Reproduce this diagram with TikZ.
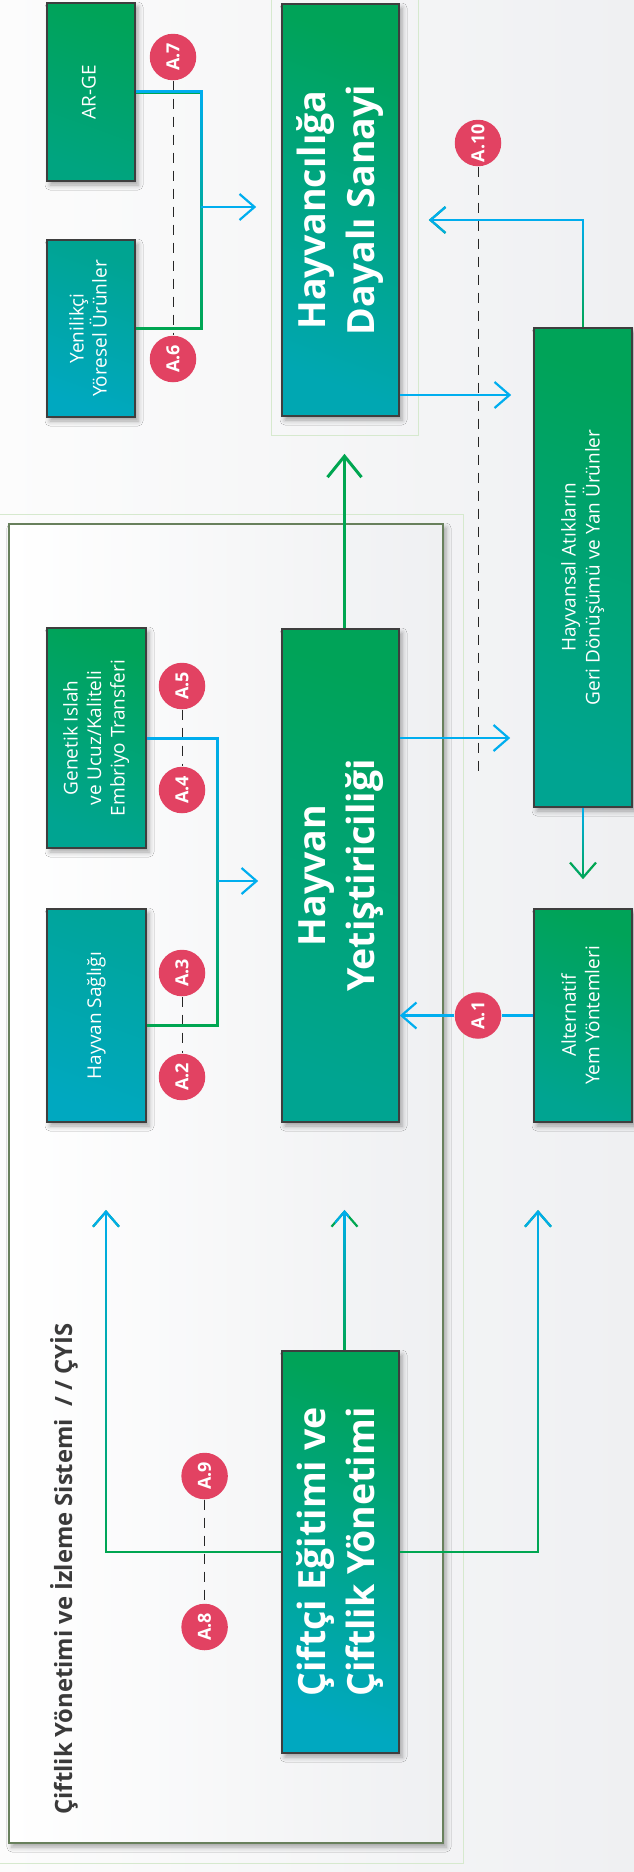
\documentclass[tikz,border=0pt]{standalone}
\usepackage{fontspec}
\setmainfont{Open Sans}
\usetikzlibrary{arrows.meta,fadings,shadows.blur}

\definecolor{cgreen}{RGB}{0,166,81}
\definecolor{cblue}{RGB}{0,174,239}
\definecolor{cboxg}{RGB}{0,163,88}
\definecolor{cboxt}{RGB}{0,164,145}
\definecolor{cboxc}{RGB}{0,168,192}
\definecolor{cborder}{RGB}{62,62,62}
\definecolor{cbadge}{RGB}{226,66,98}
\definecolor{cframe}{RGB}{104,128,92}
\definecolor{cfaint}{RGB}{214,233,206}
\definecolor{cbgl}{RGB}{252,252,252}
\definecolor{cbgr}{RGB}{239,240,242}
\definecolor{ctitle}{RGB}{58,58,58}

\newcommand{\vtext}[1]{\rotatebox{90}{\begin{tabular}{@{}c@{}}#1\end{tabular}}}

\begin{document}
\begin{tikzpicture}[x=1pt,y=-1pt,>={Straight Barb[length=15pt,width=26pt]},semithick,
	unit/.style 2 args={rectangle,draw=cborder,line width=1.6pt,top color=#1,bottom color=#2,shading angle=-20,text=white,inner sep=0pt,
		blur shadow={shadow xshift=3pt,shadow yshift=-4pt,shadow blur radius=5pt,shadow opacity=35}},
	small/.style={font=\fontsize{19}{23.5}\selectfont},
	core/.style={minimum width=117pt,font=\bfseries\fontsize{37.5}{48.5}\selectfont},
	badge/.style={circle,fill=cbadge,minimum size=46.5pt,inner sep=0pt,text=white,font=\bfseries\fontsize{18}{20}\selectfont},
	tagline/.style={draw=black!85,line width=0.9pt,dash pattern=on 10pt off 8pt},
	flow/.style={cgreen,line width=2.2pt,postaction={draw=cblue,path fading=south}},
	link/.style={cblue,line width=2.2pt},
	halo/.style={draw=cfaint,line width=0.8pt}]

\useasboundingbox (0,0) rectangle (634,1872);
\shade[left color=cbgl,right color=cbgr] (0,0) rectangle (634,1872);
\draw[halo] (-2,514) rectangle (463,1863);
\draw[halo] (271,-2) rectangle (418,435);
\draw[halo] (272,1340) rectangle (417,1771);
\shade[draw=cframe,line width=1.2pt,left color=white,right color=cbgr,
	blur shadow={shadow xshift=3pt,shadow yshift=-4pt,shadow blur radius=5pt,shadow opacity=35}] (9,524) rectangle (443,1843);

\node[font=\bfseries\fontsize{23.8}{28}\selectfont,text=ctitle] (cyis) at (64,1569) {\rotatebox{90}{Çiftlik Yönetimi ve İzleme Sistemi\ \ / / ÇYİS}};

\node[unit={cboxg}{cboxt},core,minimum height=493pt]	(hy) at (340.5,875.5)	{\vtext{Hayvan\\Yetiştiriciliği}};
\node[unit={cboxg}{cboxc!70!cboxt},core,minimum height=412pt,node distance=665.5pt]	(hds) [above of=hy]	{\vtext{Hayvancılığa\\Dayalı Sanayi}};
\node[unit={cboxg}{cboxc},core,minimum height=402pt,node distance=676.5pt]	(cy) [below of=hy]	{\vtext{Çiftçi Eğitimi ve\\Çiftlik Yönetimi}};

\node[unit={cboxg}{cboxt},small,minimum width=99pt,minimum height=220pt]	(gen) at (96.5,738)	{\vtext{Genetik Islah\\ve Ucuz/Kaliteli\\Embriyo Transferi}};
\node[unit={cboxt!80!cboxc}{cboxc},small,minimum width=99pt,minimum height=213pt,node distance=277.5pt]	(sag) [below of=gen]	{\vtext{Hayvan Sağlığı}};
\node[unit={cboxg}{cboxt},small,minimum width=98pt,minimum height=213pt,node distance=486.5pt]	(alt) [right of=sag]	{\vtext{Alternatif\\Yem Yöntemleri}};
\node[unit={cboxg}{cboxt},small,minimum width=98pt,minimum height=479pt,node distance=448pt]	(hat) [above of=alt]	{\vtext{Hayvansal Atıkların\\Geri Dönüşümü ve Yan Ürünler}};
\node[unit={cboxg}{cboxt!70!cboxg},small,minimum width=88pt,minimum height=178pt]	(arge) at (91,92)	{\vtext{AR-GE}};
\node[unit={cboxt}{cboxc},font=\fontsize{19}{20}\selectfont,minimum width=88pt,minimum height=177pt,node distance=236.5pt]	(yen) [below of=arge]	{\vtext{Yenilikçi\\Yöresel Ürünler}};

\node[badge] (a7) at (173,57) {\rotatebox{90}{A.7}};
\node[badge] (a6) at (173,359) {\rotatebox{90}{A.6}};
\node[badge] (a5) at (182,686) {\rotatebox{90}{A.5}};
\node[badge] (a4) at (182,790) {\rotatebox{90}{A.4}};
\node[badge] (a3) at (182,973) {\rotatebox{90}{A.3}};
\node[badge] (a2) at (182,1077) {\rotatebox{90}{A.2}};
\node[badge] (a1) at (478,1015.5) {\rotatebox{90}{A.1}};
\node[badge] (a10) at (478,143) {\rotatebox{90}{A.10}};
\node[badge] (a9) at (204.6,1476) {\rotatebox{90}{A.9}};
\node[badge] (a8) at (204.6,1627) {\rotatebox{90}{A.8}};

\draw[tagline] (a7) -- (a6);
\draw[tagline] (a5) -- (a4);
\draw[tagline] (a3) -- (a2);
\draw[tagline] (a9) -- (a8);
\draw[tagline] (a10) -- (a10 |- 0,773);

\coordinate (j1) at (201,207);
\coordinate (j2) at (217.5,881);
\coordinate (lt) at (106,1210);
\coordinate (rt) at (538,1210);
\coordinate (ct) at (344.5,1210);

\draw[flow,line width=3pt] (arge.east) -| (j1) |- (yen.east);
\draw[link,->,shorten >=25pt] (j1) -- (j1 -| hds.west);
\draw[flow,line width=3pt] (gen.east) -| (j2) |- ([yshift=-9.5pt]sag.east);
\draw[link,->,shorten >=23pt] (j2) -- (j2 -| hy.west);

\draw[flow,->] (hat.north) |- ([xshift=29pt,yshift=-10pt]hds.east);
\draw[link,->,shorten >=22pt] (hds.east |- 0,395) -- (hat.west |- 0,395);
\draw[link,->,shorten >=23pt] (hy.east |- gen.east) -- (hat.west |- gen.east);
\draw[flow,->] ([xshift=-5pt]hat.south) (hat.south) -- ([yshift=29pt]alt.north);
\draw[link] (alt) -- (a1);
\draw[link,->] (a1) -- (hy.east |- a1);
\draw[cgreen,line width=3pt,-{Straight Barb[length=21pt,width=34pt]}] ([xshift=4pt]hy.north) -- ([xshift=4pt,yshift=-37pt]hds.south);

\draw[flow,->] (cy.west) -| (lt);
\draw[flow,->] (cy.east) -| (rt);
\draw[flow,->] ([xshift=-1pt]cy.north) ([xshift=4pt]cy.north) -- (ct);
\end{tikzpicture}
\end{document}
